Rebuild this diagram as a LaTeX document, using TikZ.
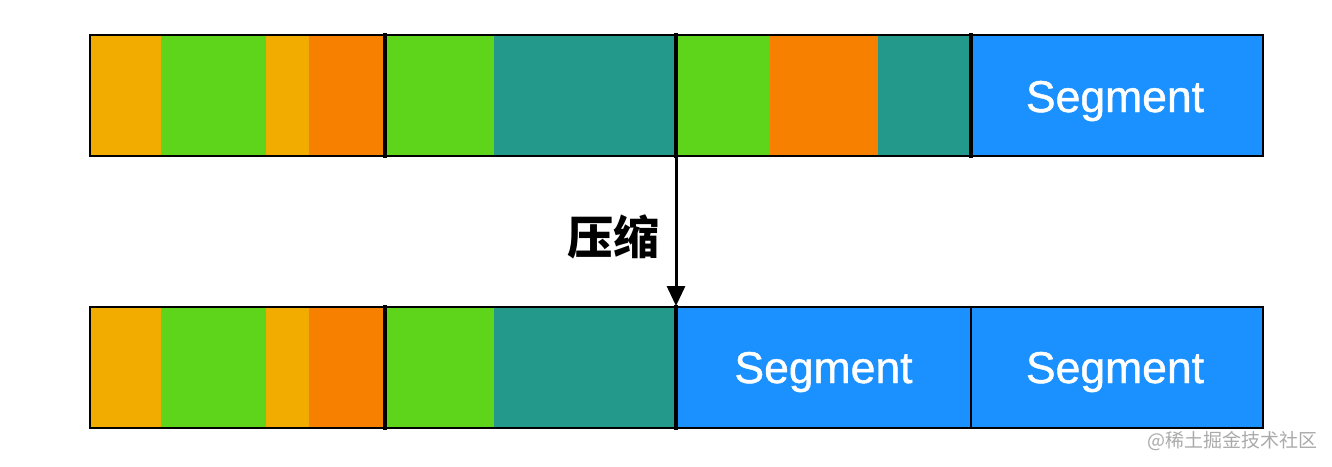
\documentclass[tikz,border=0pt]{standalone}
\usepackage{fontspec}
\newfontfamily\segfont{Liberation Sans}[FakeBold=1]
\newfontfamily\cjk{Noto Sans CJK SC}
\usetikzlibrary{arrows.meta}
\definecolor{cy}{RGB}{242,172,0}
\definecolor{cg}{RGB}{94,212,26}
\definecolor{co}{RGB}{248,128,0}
\definecolor{ct}{RGB}{34,153,138}
\definecolor{cb}{RGB}{27,145,255}
\definecolor{wm}{RGB}{170,170,170}
\tikzset{
  blk/.style={rectangle, inner sep=0pt, outer sep=0pt, anchor=north west, minimum height=121pt},
  segbox/.style={blk, fill=cb},
  segl/.style={inner sep=0pt, anchor=base, text=white, font=\segfont\fontsize{44.5}{50}\selectfont},
  outline/.style={draw=black, line width=2pt},
  sep/.style={draw=black, line width=4pt},
  thinsep/.style={draw=black, line width=2pt},
  arr/.style={draw=black, line width=3pt, -{Triangle[width=18pt,length=20pt]}},
}
\begin{document}
\begin{tikzpicture}[x=1pt,y=-1pt]
\useasboundingbox (0,0) rectangle (1332,466);
% top bar
\node[blk, fill=cy, minimum width=71pt] (a1) at (90,35) {};
\node[blk, fill=cg, minimum width=105pt] (a2) at (161,35) {};
\node[blk, fill=cy, minimum width=43pt] (a3) at (266,35) {};
\node[blk, fill=co, minimum width=76pt] (a4) at (309,35) {};
\node[blk, fill=cg, minimum width=109pt] (a5) at (385,35) {};
\node[blk, fill=ct, minimum width=182pt] (a6) at (494,35) {};
\node[blk, fill=cg, minimum width=94pt] (a7) at (676,35) {};
\node[blk, fill=co, minimum width=108pt] (a8) at (770,35) {};
\node[blk, fill=ct, minimum width=93pt] (a9) at (878,35) {};
\node[segbox, minimum width=292pt] (a10) at (971,35) {};
\path (a10.north) ++(-2,77) node[segl] (ta10) {Segment};
\draw[outline] (90,35) rectangle (1263,156);
\draw[sep] (385,33) -- (385,158);
\draw[sep] (676,33) -- (676,158);
\draw[sep] (971,33) -- (971,158);
% bottom bar
\node[blk, fill=cy, minimum width=71pt] (b1) at (90,307) {};
\node[blk, fill=cg, minimum width=105pt] (b2) at (161,307) {};
\node[blk, fill=cy, minimum width=43pt] (b3) at (266,307) {};
\node[blk, fill=co, minimum width=76pt] (b4) at (309,307) {};
\node[blk, fill=cg, minimum width=109pt] (b5) at (385,307) {};
\node[blk, fill=ct, minimum width=182pt] (b6) at (494,307) {};
\node[segbox, minimum width=295pt] (b7) at (676,307) {};
\node[segbox, minimum width=292pt] (b8) at (971,307) {};
\path (b7.north) ++(0,76) node[segl] (tb7) {Segment};
\path (b8.north) ++(-2,76) node[segl] (tb8) {Segment};
\draw[outline] (90,307) rectangle (1263,428);
\draw[sep] (385,305) -- (385,430);
\draw[sep] (676,305) -- (676,430);
\draw[thinsep] (971,307) -- (971,428);
% arrow
\coordinate (s) at (676,158);
\coordinate (e) at (676,306);
\draw[arr] (s) -- (e);
\node[font=\cjk\bfseries\fontsize{46}{52}\selectfont, inner sep=0pt] (lbl) at (613,237) {压缩};
\node[font=\cjk\fontsize{19}{22}\selectfont, text=wm, inner sep=0pt, anchor=east] (wmk) at (1318,441) {@稀土掘金技术社区};
\end{tikzpicture}
\end{document}
